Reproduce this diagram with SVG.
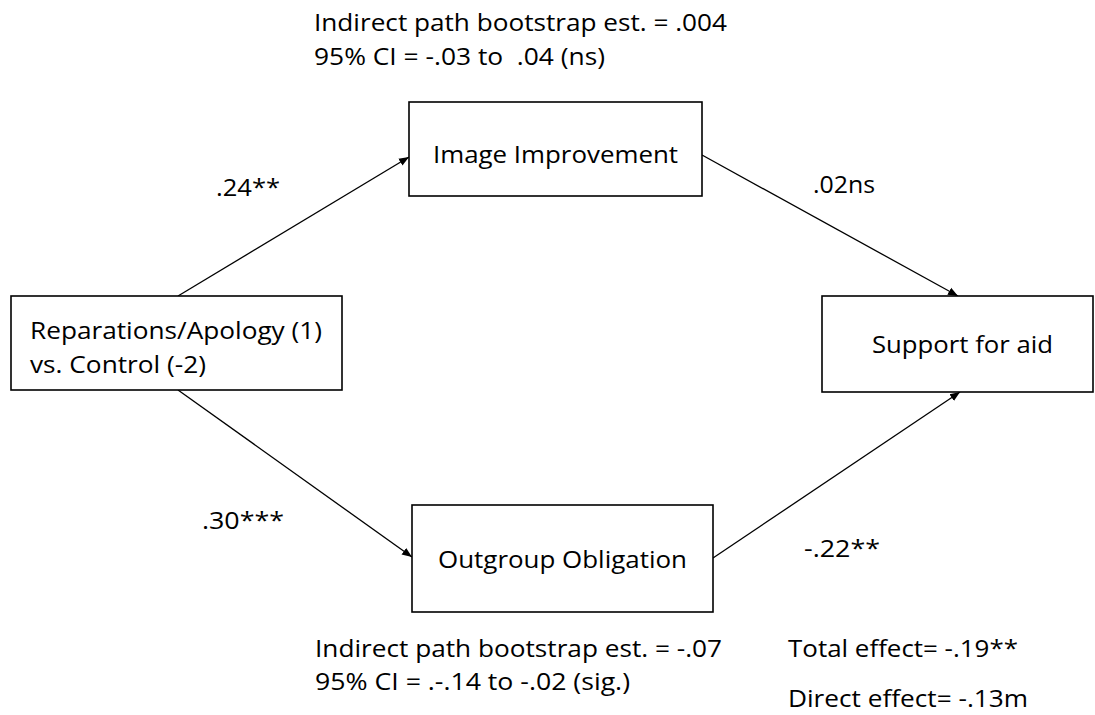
<svg xmlns="http://www.w3.org/2000/svg" width="1095" height="715" viewBox="0 0 1095 715">
<defs>
<marker id="ah" viewBox="0 0 10 10" refX="10" refY="5" markerWidth="10" markerHeight="10" markerUnits="userSpaceOnUse" orient="auto">
<path d="M0,1 L10,5 L0,9 Z" fill="#000"/>
</marker>
<style>
.box{fill:#fff;stroke:#000;stroke-width:1.6}
.t{font-family:"Open Sans","Noto Sans","Liberation Sans",sans-serif;font-size:24px;fill:#000;white-space:pre}
.c{stroke:#000;stroke-width:1.3;fill:none;marker-end:url(#ah)}
</style>
</defs>
<rect width="1095" height="715" fill="#fff"/>
<g id="connectors">
<line class="c" x1="178" y1="296" x2="409" y2="157"/>
<line class="c" x1="702" y1="155" x2="958" y2="296"/>
<line class="c" x1="178" y1="390" x2="412" y2="557"/>
<line class="c" x1="713" y1="558" x2="960" y2="392"/>
</g>
<g id="node-reparations">
<rect class="box" x="11" y="296" width="331" height="94"/>
<text class="t" x="30" y="339" textLength="292" lengthAdjust="spacingAndGlyphs">Reparations/Apology (1)</text>
<text class="t" x="30" y="373" textLength="176" lengthAdjust="spacingAndGlyphs">vs. Control (-2)</text>
</g>
<g id="node-image">
<rect class="box" x="409" y="102" width="293" height="94"/>
<text class="t" x="433" y="163" textLength="245" lengthAdjust="spacingAndGlyphs">Image Improvement</text>
</g>
<g id="node-outgroup">
<rect class="box" x="412" y="505" width="301" height="107"/>
<text class="t" x="438" y="568" textLength="249" lengthAdjust="spacingAndGlyphs">Outgroup Obligation</text>
</g>
<g id="node-support">
<rect class="box" x="822" y="296" width="271" height="96"/>
<text class="t" x="872" y="353" textLength="181" lengthAdjust="spacingAndGlyphs">Support for aid</text>
</g>
<g id="labels">
<text class="t" x="314" y="31" textLength="413" lengthAdjust="spacingAndGlyphs">Indirect path bootstrap est. = .004</text>
<text class="t" x="314" y="65" textLength="291" lengthAdjust="spacingAndGlyphs">95% CI = -.03 to  .04 (ns)</text>
<text class="t" x="216" y="196" textLength="64" lengthAdjust="spacingAndGlyphs">.24**</text>
<text class="t" x="813" y="193" textLength="62" lengthAdjust="spacingAndGlyphs">.02ns</text>
<text class="t" x="202" y="529" textLength="82" lengthAdjust="spacingAndGlyphs">.30***</text>
<text class="t" x="804" y="557" textLength="76" lengthAdjust="spacingAndGlyphs">-.22**</text>
<text class="t" x="315" y="657" textLength="407" lengthAdjust="spacingAndGlyphs">Indirect path bootstrap est. = -.07</text>
<text class="t" x="315" y="690" textLength="315" lengthAdjust="spacingAndGlyphs">95% CI = .-.14 to -.02 (sig.)</text>
<text class="t" x="788" y="657" textLength="230" lengthAdjust="spacingAndGlyphs">Total effect= -.19**</text>
<text class="t" x="788" y="707" textLength="240" lengthAdjust="spacingAndGlyphs">Direct effect= -.13m</text>
</g>
</svg>
